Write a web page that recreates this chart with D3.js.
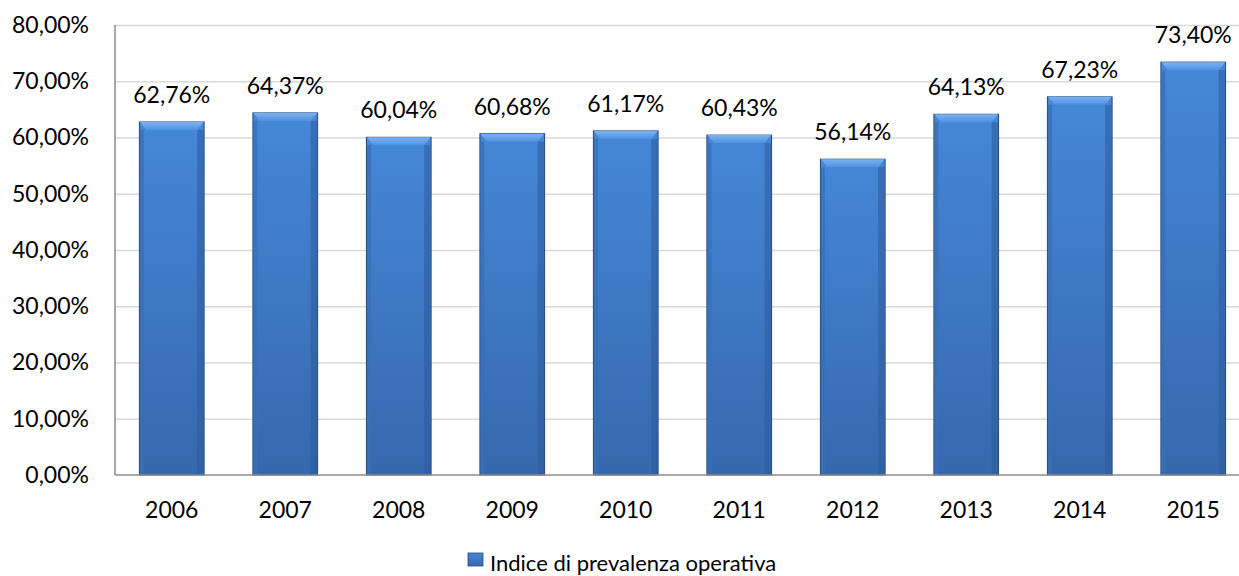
<!DOCTYPE html>
<html>
<head>
<meta charset="utf-8">
<script src="https://cdn.jsdelivr.net/npm/d3@7"></script>
<style>
  body { margin: 0; background: #fff; }
  svg text { font-family: Lato, "Open Sans", sans-serif; fill: #000; }
  .tick text { font-size: 23px; }
</style>
</head>
<body>
<div id="chart"></div>
<script>
const years = ['2006', '2007', '2008', '2009', '2010', '2011', '2012', '2013', '2014', '2015'];
const values = [62.76, 64.37, 60.04, 60.68, 61.17, 60.43, 56.14, 64.13, 67.23, 73.40];
const yTicks = [0, 10, 20, 30, 40, 50, 60, 70, 80];
const seriesName = 'Indice di prevalenza operativa';

const W = 1239, H = 576;
const fmt = v => v.toFixed(2).replace('.', ',') + '%';

let svg = d3.select('#chart').append('svg')
    .attr('width', W)
    .attr('height', H);

let x = d3.scaleBand()
    .domain(years)
    .range([115, 1250])
    .paddingInner(0.43)
    .paddingOuter(0.215);
let y = d3.scaleLinear()
    .domain([0, 80])
    .range([475, 25]);

let defs = svg.append('defs');
let grad = defs.append('linearGradient') // main bar body
    .attr('id', 'barGrad').attr('x1', 0).attr('y1', 0).attr('x2', 0).attr('y2', 1);
grad.append('stop').attr('offset', '0%').attr('stop-color', '#4587d8');
grad.append('stop').attr('offset', '100%').attr('stop-color', '#3668ad');
let topGrad = defs.append('linearGradient') // top bevel
    .attr('id', 'topGrad').attr('x1', 0).attr('y1', 0).attr('x2', 0).attr('y2', 1);
topGrad.append('stop').attr('offset', '0%').attr('stop-color', '#7db2f2');
topGrad.append('stop').attr('offset', '100%').attr('stop-color', '#4e92e2');

svg.append('g') // horizontal gridlines
    .attr('transform', 'translate(115,0)')
    .call(d3.axisLeft(y).tickValues(yTicks.slice(1)).tickSize(-(W - 115)).tickFormat(''))
    .call(g => g.select('.domain').remove())
    .call(g => g.selectAll('line').attr('stroke', '#d9d9d9').attr('stroke-width', 1.5));

let bars = svg.append('g').selectAll('g')
    .data(values).enter().append('g')
    .attr('transform', (d, i) => 'translate(' + x(years[i]) + ',0)');
let bw = x.bandwidth(), bev = 8, sw = 7;
bars.append('rect') // bar body
    .attr('x', 0)
    .attr('y', d => y(d))
    .attr('width', bw)
    .attr('height', d => y(0) - y(d))
    .attr('fill', 'url(#barGrad)')
    .attr('stroke', '#23497c')
    .attr('stroke-width', 1);
bars.append('rect') // left bevel
    .attr('x', 0.5)
    .attr('y', d => y(d) + bev)
    .attr('width', 4)
    .attr('height', d => y(0) - y(d) - bev)
    .attr('fill', '#3a6fb8').attr('opacity', 0.8);
bars.append('rect') // right bevel
    .attr('x', bw - sw)
    .attr('y', d => y(d) + bev)
    .attr('width', sw - 0.5)
    .attr('height', d => y(0) - y(d) - bev)
    .attr('fill', '#2d5b9c').attr('opacity', 0.55);
bars.append('path') // top bevel
    .attr('d', d => 'M0.5,' + y(d) + ' L' + (bw - 0.5) + ',' + y(d) + ' L' + (bw - sw) + ',' + (y(d) + bev) + ' L' + sw + ',' + (y(d) + bev) + ' Z')
    .attr('fill', 'url(#topGrad)');

svg.append('g') // value labels
    .selectAll('text')
    .data(values).enter().append('text')
    .attr('x', (d, i) => x(years[i]) + bw / 2)
    .attr('y', d => y(d) - 19)
    .attr('text-anchor', 'middle')
    .attr('font-size', 23)
    .text(d => fmt(d));

svg.append('g') // y axis
    .attr('transform', 'translate(115,0)')
    .call(d3.axisLeft(y).tickValues(yTicks).tickSize(0).tickPadding(26).tickFormat(d => fmt(d)))
    .call(g => g.select('.domain').attr('stroke', '#8c8c8c').attr('stroke-width', 1.5).attr('d', 'M0,25V475'))
    .call(g => g.selectAll('text').attr('font-family', null));

svg.append('g') // x axis
    .attr('transform', 'translate(0,475)')
    .call(d3.axisBottom(x).tickSize(0).tickPadding(27))
    .call(g => g.select('.domain').attr('stroke', '#8c8c8c').attr('stroke-width', 1.5).attr('d', 'M115,0H' + W))
    .call(g => g.selectAll('text').attr('font-family', null));

let legend = svg.append('g').attr('transform', 'translate(468,553)');
legend.append('rect')
    .attr('width', 15).attr('height', 13)
    .attr('fill', 'url(#barGrad)')
    .attr('stroke', '#23497c').attr('stroke-width', 0.8);
legend.append('text')
    .attr('x', 22).attr('y', 18)
    .attr('font-size', 22)
    .text(seriesName);
</script>
</body>
</html>
